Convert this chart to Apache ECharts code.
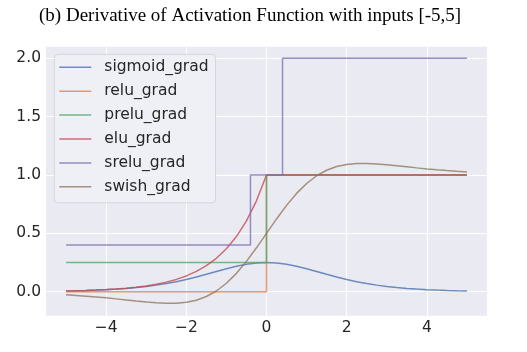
<!DOCTYPE html>
<html>
<head>
    <meta charset="utf-8">
    <title>Derivative of Activation Function</title>
    <style>
        body {
            margin: 0;
        }

        #ec {
            width: 527px;
            height: 352px;
        }
    </style>
</head>
<body>
    <div id="ec"></div>
    <script src="https://cdn.jsdelivr.net/npm/echarts@6/dist/echarts.min.js"></script>
    <script>
        // smooth curves are read every 0.25 along x
        var xs = [-5, -4.75, -4.5, -4.25, -4, -3.75, -3.5, -3.25, -3, -2.75, -2.5, -2.25, -2, -1.75, -1.5, -1.25, -1, -0.75, -0.5, -0.25,
            0, 0.25, 0.5, 0.75, 1, 1.25, 1.5, 1.75, 2, 2.25, 2.5, 2.75, 3, 3.25, 3.5, 3.75, 4, 4.25, 4.5, 4.75, 5];

        var sigmoidGrad = [0.0066, 0.0085, 0.0109, 0.0139, 0.0177, 0.0225, 0.0285, 0.0359, 0.0452, 0.0565, 0.0701, 0.0862, 0.1050, 0.1261, 0.1491, 0.1731, 0.1966, 0.2179, 0.2350, 0.2461,
            0.25, 0.2461, 0.2350, 0.2179, 0.1966, 0.1731, 0.1491, 0.1261, 0.1050, 0.0862, 0.0701, 0.0565, 0.0452, 0.0359, 0.0285, 0.0225, 0.0177, 0.0139, 0.0109, 0.0085, 0.0066];

        var swishGrad = [-0.0265, -0.0318, -0.0381, -0.0450, -0.0527, -0.0614, -0.0704, -0.0794, -0.0881, -0.0953, -0.0994, -0.0987, -0.0908, -0.0727, -0.0413, 0.0063, 0.0723, 0.1574, 0.2600, 0.3763,
            0.5, 0.6237, 0.7400, 0.8426, 0.9277, 0.9937, 1.0413, 1.0727, 1.0908, 1.0987, 1.0994, 1.0953, 1.0881, 1.0794, 1.0704, 1.0614, 1.0527, 1.0450, 1.0381, 1.0318, 1.0265];

        var eluX = [-5, -4.75, -4.5, -4.25, -4, -3.75, -3.5, -3.25, -3, -2.75, -2.5, -2.25, -2, -1.75, -1.5, -1.25, -1, -0.75, -0.5, -0.25, 0, 5];
        var eluGrad = [0.0067, 0.0087, 0.0111, 0.0143, 0.0183, 0.0235, 0.0302, 0.0388, 0.0498, 0.0639, 0.0821, 0.1054, 0.1353, 0.1738, 0.2231, 0.2865, 0.3679, 0.4724, 0.6065, 0.7788, 1, 1];

        // step functions: corner points
        var reluX = [-5, 0, 0, 5];
        var reluGrad = [0, 0, 1, 1];
        var preluX = [-5, 0, 0, 5];
        var preluGrad = [0.25, 0.25, 1, 1];
        var sreluX = [-5, -0.4, -0.4, 0.4, 0.4, 5];
        var sreluGrad = [0.4, 0.4, 1, 1, 2, 2];

        var names = ['sigmoid_grad', 'relu_grad', 'prelu_grad', 'elu_grad', 'srelu_grad', 'swish_grad'];
        var colors = ['#4c72b0', '#dd8452', '#55a868', '#c44e52', '#8172b3', '#937860'];

        var xTicks = [-4, -2, 0, 2, 4];
        var yTicks = [0, 0.5, 1, 1.5, 2];

        function pairs(x, y) {
            return x.map(function (v, i) { return [v, y[i]]; });
        }

        var seriesData = [
            pairs(xs, sigmoidGrad),
            pairs(reluX, reluGrad),
            pairs(preluX, preluGrad),
            pairs(eluX, eluGrad),
            pairs(sreluX, sreluGrad),
            pairs(xs, swishGrad)
        ];

        var labelFont = {
            fontFamily: 'DejaVu Sans',
            fontSize: 15.5,
            color: '#262626'
        };

        var option = {
            animation: false,
            color: colors,
            title: {
                text: '(b) Derivative of Activation Function with inputs [-5,5]',
                left: 39,
                top: 7,
                padding: 0,
                textStyle: {
                    fontFamily: 'Liberation Serif',
                    fontSize: 19,
                    fontWeight: 'normal',
                    color: '#000'
                }
            },
            grid: {
                left: 46,
                right: 40,
                top: 46.7,
                bottom: 36.3,
                show: true,
                backgroundColor: '#eaeaf2',
                borderWidth: 0
            },
            legend: {
                orient: 'vertical',
                left: 54.3,
                top: 54.3,
                padding: [4, 7, 7, 5],
                itemGap: 5.9,
                itemWidth: 32,
                itemHeight: 1.5,
                icon: 'rect',
                backgroundColor: 'rgba(240,241,246,0.9)',
                borderColor: '#d4d4dc',
                borderWidth: 1,
                borderRadius: 4,
                itemStyle: { opacity: 0.8 },
                textStyle: {
                    fontFamily: 'DejaVu Sans',
                    fontSize: 15.5,
                    lineHeight: 18,
                    color: '#262626',
                    padding: [0, 0, 0, 8]
                },
                data: names
            },
            xAxis: {
                type: 'value',
                min: -5.5,
                max: 5.5,
                axisLine: { show: false },
                axisTick: { show: false, customValues: xTicks },
                axisLabel: Object.assign({
                    customValues: xTicks,
                    margin: 4,
                    formatter: function (v) {
                        return v < 0 ? '\u2212' + (-v) : String(v);
                    }
                }, labelFont),
                splitLine: { show: true, lineStyle: { color: '#fff', width: 1 } }
            },
            yAxis: {
                type: 'value',
                min: -0.2056,
                max: 2.1,
                axisLine: { show: false },
                axisTick: { show: false, customValues: yTicks },
                axisLabel: Object.assign({
                    customValues: yTicks,
                    margin: 5,
                    formatter: function (v) { return v.toFixed(1); }
                }, labelFont),
                splitLine: { show: true, lineStyle: { color: '#fff', width: 1 } }
            },
            series: names.map(function (n, i) {
                return {
                    name: n,
                    type: 'line',
                    data: seriesData[i],
                    showSymbol: false,
                    smooth: false,
                    lineStyle: { width: 1.5, opacity: 0.8 }
                };
            })
        };

        var chart = echarts.init(document.getElementById('ec'));
        chart.setOption(option);
    </script>
</body>
</html>
